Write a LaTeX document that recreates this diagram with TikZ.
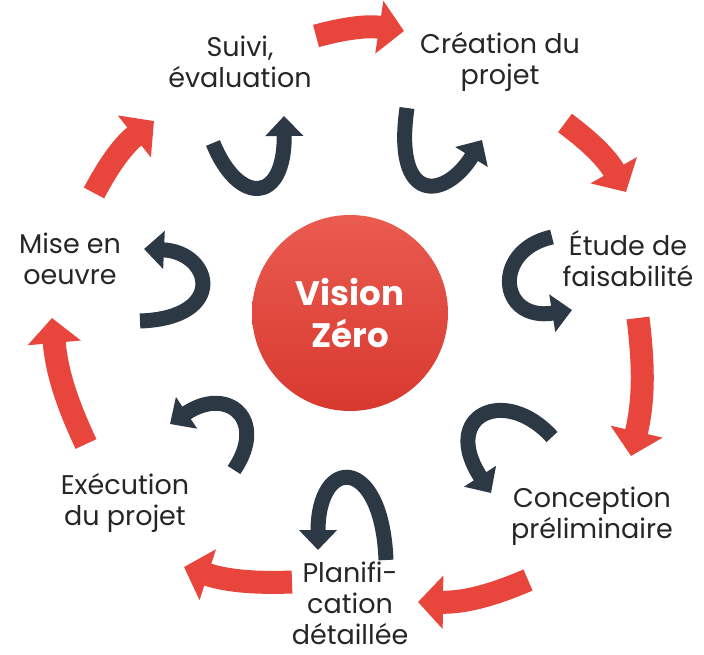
\documentclass[tikz,border=0pt]{standalone}
\usepackage{fontspec}
\setmainfont{Poppins}
\usetikzlibrary{arrows.meta}
\definecolor{rojo}{HTML}{E8463C}
\definecolor{rojoclaro}{HTML}{EA5B50}
\definecolor{rojooscuro}{HTML}{D8392F}
\definecolor{pizarra}{HTML}{2D3845}
\begin{document}
\begin{tikzpicture}[x=1pt, y=-1pt]

	\tikzstyle{etapa}=[align=center, font=\fontsize{27}{31}\selectfont, text=black!85, inner sep=0pt]
	\tikzstyle{centro}=[circle, minimum size=196pt, top color=rojoclaro, bottom color=rojooscuro, align=center, text=white, font=\fontsize{34}{42}\selectfont\bfseries]
	\tikzstyle{ciclo}=[rojo, line width=23pt, -{Triangle[length=25pt, width=52pt]}]
	\tikzstyle{giro}=[pizarra, line width=15pt, -{Triangle[length=20pt, width=37pt]}]

	\useasboundingbox (0,0) rectangle (704,655);

	\coordinate (a_1_s) at (316,36); % FLECHA ARRIBA
	\coordinate (a_1_e) at (404,31); % FLECHA ARRIBA
	\coordinate (a_2_s) at (565,123);
	\coordinate (a_2_e) at (626,192);
	\coordinate (a_3_s) at (638,318);
	\coordinate (a_3_e) at (631,456);
	\coordinate (a_4_s) at (528,580);
	\coordinate (a_4_e) at (418,602);
	\coordinate (a_5_s) at (292,582);
	\coordinate (a_5_e) at (184,567);
	\coordinate (a_6_s) at (86,444);
	\coordinate (a_6_e) at (52,318);
	\coordinate (a_7_s) at (94,193);
	\coordinate (a_7_e) at (154,121);

	\node[centro] (vision) at (350,313) {Vision\\Zéro};

	\node[etapa] (suivi) at (240,62) {Suivi,\\évaluation};
	\node[etapa] (creation) at (500,62) {Création du\\projet};
	\node[etapa] (etude) at (628,259) {Étude de\\faisabilité};
	\node[etapa] (conception) at (592,516) {Conception\\préliminaire};
	\node[etapa] (planif) at (350,603) {Planifi-\\cation\\détaillée};
	\node[etapa] (execution) at (125,503) {Exécution\\du projet};
	\node[etapa] (mise) at (70,259) {Mise en\\oeuvre};

	%%%%%%%%%%%%%%%%%%%%%%%%%%%%%%%%%
	%%%%%%%% CICLO DE ETAPAS %%%%%%%%
	\draw[ciclo] (a_1_s) to [bend left=12] (a_1_e);
	\draw[ciclo] (a_2_s) to [bend left=12] (a_2_e);
	\draw[ciclo] (a_3_s) to [bend left=10] (a_3_e);
	\draw[ciclo] (a_4_s) to [bend left=12] (a_4_e);
	\draw[ciclo] (a_5_s) to [bend left=10] (a_5_e);
	\draw[ciclo] (a_6_s) to [bend left=10] (a_6_e);
	\draw[ciclo] (a_7_s) to [bend left=12] (a_7_e);
	%%%%%%%%%%%%%%%%%%%%%%%%%%%%%%%%%

	%%%%%%%%%%%%%%%%%%%%%%%%%%%%%%%%%
	%%%%%%%% RETOURS %%%%%%%%
	\draw[giro] (213,143) .. controls (238,205) and (285,205) .. (284,116);
	\draw[giro] (407,108) .. controls (393,205) and (445,200) .. (482,140);
	\draw[giro] (552,237) .. controls (492,250) and (498,322) .. (572,310);
	\draw[giro] (552,437) .. controls (505,385) and (440,415) .. (491,493);
	\draw[giro] (386,560) .. controls (382,455) and (318,455) .. (318,550);
	\draw[giro] (234,470) .. controls (268,420) and (228,385) .. (170,424);
	\draw[giro] (140,321) .. controls (228,318) and (212,252) .. (144,249);
	%%%%%%%%%%%%%%%%%%%%%%%%%%%%%%%%%
\end{tikzpicture}
\end{document}
